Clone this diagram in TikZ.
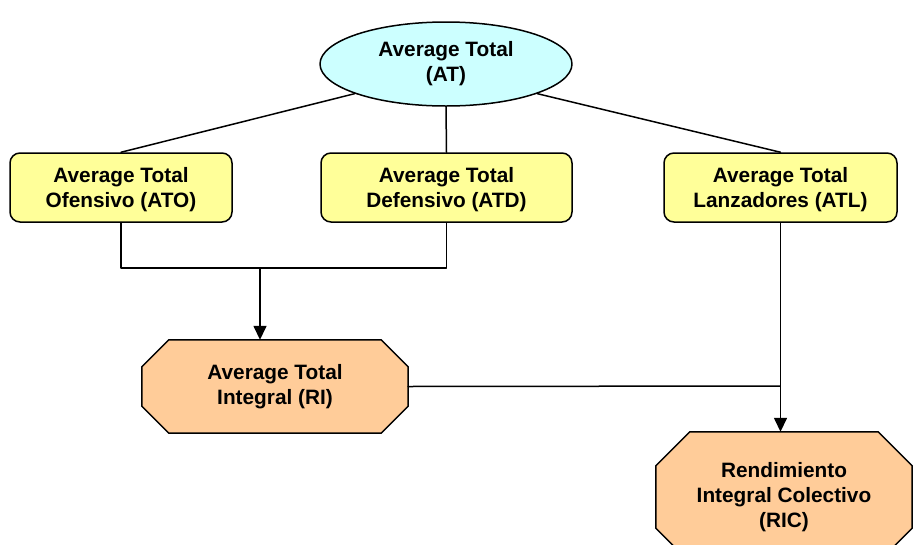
\documentclass[tikz,border=0pt]{standalone}
\usepackage{fontspec}
\setmainfont{Liberation Sans}
\usetikzlibrary{arrows.meta,shapes.geometric,backgrounds}
\definecolor{cielo}{HTML}{CCFFFF}
\definecolor{crema}{HTML}{FFFF99}
\definecolor{salmon}{HTML}{FFCC99}
% octogono alrededor de un nodo rectangular
\newcommand{\octogono}[2]{\draw[octo] ([xshift=#2]#1.north west) -- ([xshift=-#2]#1.north east) -- ([yshift=-#2]#1.north east) -- ([yshift=#2]#1.south east) -- ([xshift=-#2]#1.south east) -- ([xshift=#2]#1.south west) -- ([yshift=#2]#1.south west) -- ([yshift=-#2]#1.north west) -- cycle;}
\begin{document}
\begin{tikzpicture}[x=1pt,y=-1pt,line cap=round,line join=round,>={Triangle[length=14pt,width=13pt]},
  txt/.style={font=\fontsize{20.8}{25}\selectfont\bfseries,align=center,inner sep=0pt},
  elipse/.style={txt,ellipse,draw,line width=1.5pt,fill=cielo,minimum width=252pt,minimum height=84pt},
  caja/.style={txt,text depth=0pt,rectangle,rounded corners=10pt,draw,line width=1.5pt,fill=crema,minimum height=69pt},
  octo/.style={line width=1.5pt,fill=salmon},
  enlace/.style={line width=1.5pt}]
\useasboundingbox (0,0) rectangle (913,544);
% nodos
\node[elipse] (AT) at (446,64) {Average Total\\(AT)};
\node[caja,minimum width=222pt] (ATO) at (121,187.5) {Average Total\\Ofensivo (ATO)};
\node[caja,minimum width=251pt] (ATD) at (446.5,187.5) {Average Total\\Defensivo (ATD)};
\node[caja,minimum width=233pt] (ATL) at (780.5,187.5) {Average Total\\Lanzadores (ATL)};
\node[txt,minimum width=266pt,minimum height=93pt] (RI) at (275,386.5) {Average Total\\Integral (RI)};
\node[txt,minimum width=256pt,minimum height=130pt] (RIC) at (784,497) {Rendimiento\\Integral Colectivo\\(RIC)};
\begin{scope}[on background layer]
\octogono{RI}{27pt}
\octogono{RIC}{34pt}
\end{scope}
\coordinate (union) at (260,268);
\coordinate (cruce) at (780,386);
% enlaces
\draw[enlace] (AT.198) -- (ATO.north);
\draw[enlace] (AT.south) -- (ATD.north);
\draw[enlace] (AT.342) -- (ATL.north);
\draw[enlace] (ATO.south) |- (union) -| (ATD.south);
\draw[enlace,->] (union) -- (union |- RI.north);
\draw[enlace] (RI.east) -- (cruce);
\draw[enlace,->] (ATL.south) -- (ATL.south |- RIC.north);
\end{tikzpicture}
\end{document}
